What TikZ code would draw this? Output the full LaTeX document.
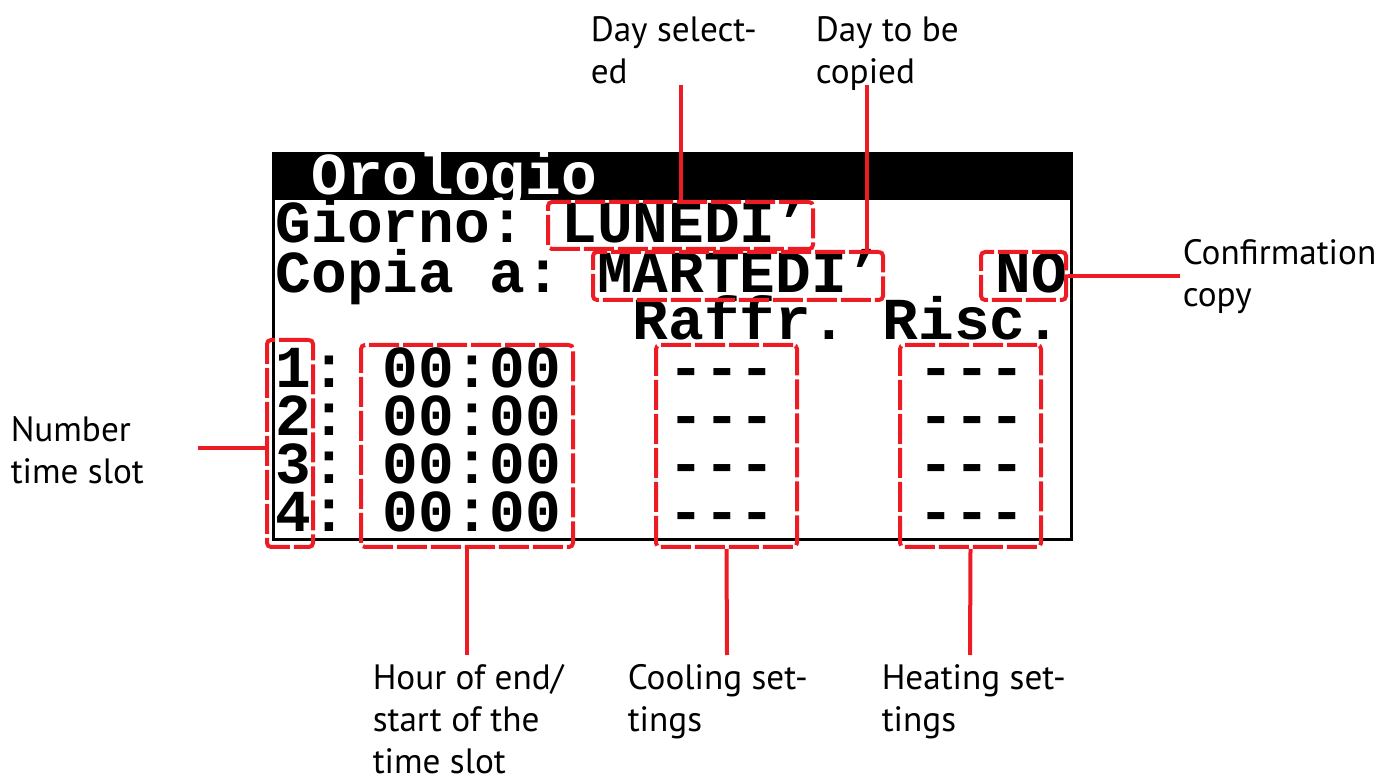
\documentclass[tikz,border=0pt]{standalone}
\usepackage{fontspec}
\setmainfont{PT Sans}
\newfontfamily\lcdfont{Liberation Mono}[Ligatures=TeXOff]
\usetikzlibrary{fit}

\definecolor{callred}{RGB}{237,28,36}

\tikzset{every picture/.style={line width=0.75pt}}
\tikzset{
	lcd/.style={anchor=base west, inner sep=0pt, text height=17pt, text depth=1pt, font=\fontsize{29.75}{30}\lcdfont\bfseries\frenchspacing},
	redbox/.style={draw=callred, line width=2pt, dash pattern=on 15pt off 2pt, rounded corners=2pt, inner sep=0pt},
	callout/.style={draw=callred, line width=2pt},
	note/.style={anchor=north west, inner sep=0pt, align=left, font=\fontsize{17.6}{21}\selectfont}
}

\begin{document}
\begin{tikzpicture}[x=0.5pt,y=0.5pt,yscale=-1,xscale=1]
		\useasboundingbox (0,0) rectangle (1385,779);

		% display
		\node (screen) [draw, line width=1.5pt, inner sep=0pt, fit={(273,154) (1071,540)}] {};
		\node (titlebar) [fill=black, inner sep=0pt, fit={(273,154) (1071,200)}] {};

		\node (title) [lcd, text=white] at (310.7,195) {Orologio};
		\node (giorno) [lcd] at (275,243) {Giorno: LUNEDI’};
		\node (copia) [lcd] at (275,293) {Copia a: MARTEDI’};
		\node (conf) [lcd] at (995,293) {NO};
		\node (raffr) [lcd] at (632,340) {Raffr.};
		\node (risc) [lcd] at (881.9,340) {Risc.};

		\node (row1) [lcd] at (275,388) {1: 00:00};
		\node (row2) [lcd] at (275,436) {2: 00:00};
		\node (row3) [lcd] at (275,484) {3: 00:00};
		\node (row4) [lcd] at (275,532) {4: 00:00};
		\node (cool1) [lcd] at (667.7,388) {---};
		\node (cool2) [lcd] at (667.7,436) {---};
		\node (cool3) [lcd] at (667.7,484) {---};
		\node (cool4) [lcd] at (667.7,532) {---};
		\node (heat1) [lcd] at (917.6,388) {---};
		\node (heat2) [lcd] at (917.6,436) {---};
		\node (heat3) [lcd] at (917.6,484) {---};
		\node (heat4) [lcd] at (917.6,532) {---};

		% red frames
		\node (daysel) [redbox, fit={(548,202) (813,249)}] {};
		\node (daycopy) [redbox, fit={(593,252) (883,300)}] {};
		\node (confbox) [redbox, fit={(981,252) (1066,300)}] {};
		\node (slotnum) [redbox, fit={(267,340) (313,547)}] {};
		\node (hourbox) [redbox, fit={(361,345) (573,547)}] {};
		\node (coolbox) [redbox, fit={(656,345) (797,547)}] {};
		\node (heatbox) [redbox, fit={(900,345) (1041,547)}] {};

		% callout lines
		\coordinate (daysel-end) at (681,85);
		\coordinate (daycopy-end) at (867,85);
		\coordinate (conf-end) at (1180,276);
		\coordinate (slot-end) at (198,448);
		\coordinate (hour-end) at (467,655);
		\coordinate (cool-end) at (727,655);
		\coordinate (heat-end) at (970,655);

		\draw [callout] (daysel-end) -- (daysel-end |- daysel.north);
		\draw [callout] (daycopy-end) -- (daycopy-end |- daycopy.north);
		\draw [callout] (confbox.east) -- (conf-end);
		\draw [callout] (slot-end) -- (slot-end -| slotnum.west);
		\draw [callout] (hourbox.south) -- (hour-end);
		\draw [callout] (coolbox.south) -- (cool-end);
		\draw [callout] (heatbox.south) -- (heat-end);

		% labels
		\node (daysel-txt) [note] at (590,16) {Day select-\\ed};
		\node (daycopy-txt) [note] at (815,16) {Day to be\\copied};
		\node (conf-txt) [note] at (1182,239) {Confirmation\\copy};
		\node (slot-txt) [note] at (10,416) {Number\\time slot};
		\node (hour-txt) [note] at (372,664) {Hour of end/\\start of the\\time slot};
		\node (cool-txt) [note] at (627,664) {Cooling set-\\tings};
		\node (heat-txt) [note] at (881,664) {Heating set-\\tings};

	\end{tikzpicture}
\end{document}
